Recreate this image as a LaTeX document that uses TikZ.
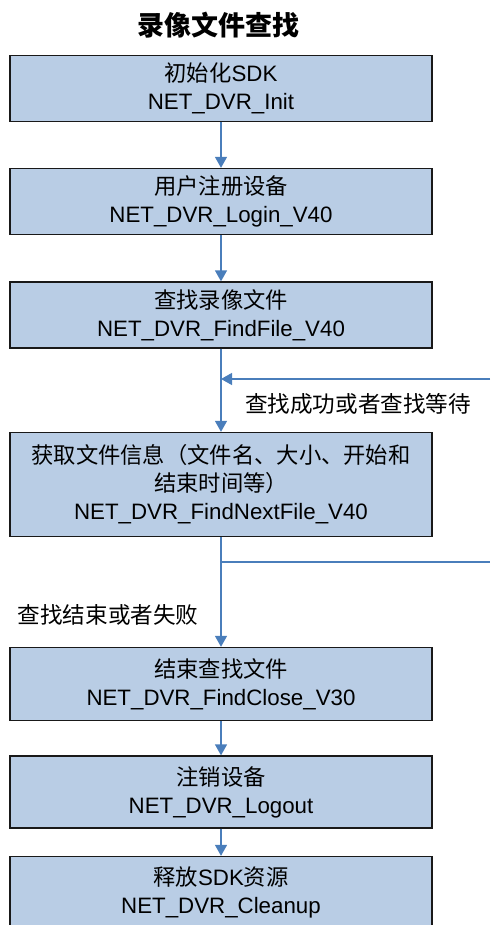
\documentclass[tikz,border=0pt]{standalone}
\usepackage{fontspec}
\setmainfont{Liberation Sans}
\newfontfamily\cjk{Noto Sans CJK SC}
\usetikzlibrary{arrows.meta}
\definecolor{boxblue}{HTML}{B9CDE5}
\definecolor{flowblue}{HTML}{4A7EBB}
\tikzset{
  box/.style={draw=black!90, line width=1.3pt, fill=boxblue, minimum width=422pt,
    inner sep=0pt, align=center, font=\fontsize{22.3}{28}\selectfont},
  flow/.style={draw=flowblue, line width=1.3pt, -{Triangle[width=12pt,length=11pt]}},
  flowline/.style={draw=flowblue, line width=1.3pt},
  note/.style={font=\fontsize{22.6}{28}\selectfont\cjk}
}
\begin{document}
\begin{tikzpicture}[x=1pt,y=-1pt]
	    \useasboundingbox (0,0) rectangle (490,925);
	    \clip (0,0) rectangle (490,925);
	    \node[font=\fontsize{27}{30}\selectfont\cjk\bfseries] (title) at (218,25) {录像文件查找};
	    \node[box, minimum height=66pt] (init) at (221,88.5) {{\cjk 初始化}SDK\\NET\_DVR\_Init};
	    \node[box, minimum height=66pt] (login) at (221,201.5) {{\cjk 用户注册设备}\\NET\_DVR\_Login\_V40};
	    \node[box, minimum height=66pt] (findfile) at (221,315) {{\cjk 查找录像文件}\\NET\_DVR\_FindFile\_V40};
	    \node[box, minimum height=104pt] (findnext) at (221,484.5) {{\cjk 获取文件信息（文件名、大小、开始和}\\{\cjk 结束时间等）}\\NET\_DVR\_FindNextFile\_V40};
	    \node[box, minimum height=73pt] (findclose) at (221,684) {{\cjk 结束查找文件}\\NET\_DVR\_FindClose\_V30};
	    \node[box, minimum height=72pt] (logout) at (221,792) {{\cjk 注销设备}\\NET\_DVR\_Logout};
	    \node[box, minimum height=72pt] (cleanup) at (221,892.5) {{\cjk 释放}SDK{\cjk 资源}\\NET\_DVR\_Cleanup};
	    \draw[flow] (init) -- (login);
	    \draw[flow] (login) -- (findfile);
	    \draw[flow] (findfile) -- (findnext);
	    \draw[flow] (findnext) -- (findclose);
	    \draw[flow] (findclose) -- (logout);
	    \draw[flow] (logout) -- (cleanup);
	    % loop back from the right
	    \coordinate (loopin) at (490,379);
	    \coordinate (loopout) at (490,562);
	    \draw[flow] (loopin) -- (findfile.south |- loopin);
	    \draw[flowline] (findnext.south |- loopout) -- (loopout);
	    \node[note] (waitlabel) at (358,404) {查找成功或者查找等待};
	    \node[note] (endlabel) at (108,615) {查找结束或者失败};

	\end{tikzpicture}
\end{document}
